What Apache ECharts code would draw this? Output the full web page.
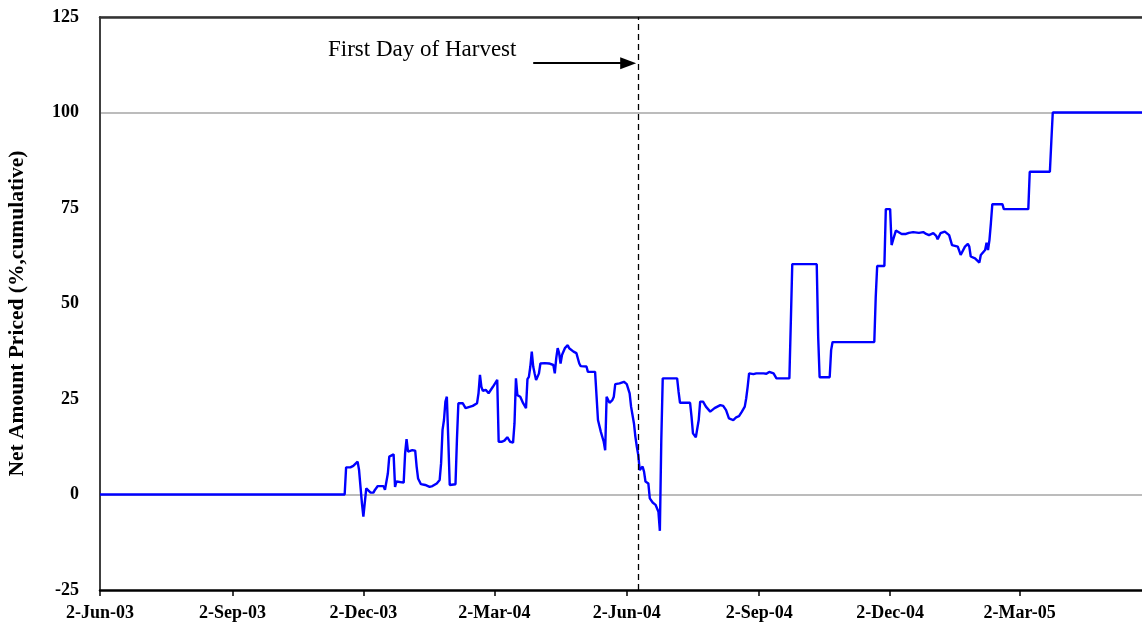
<!DOCTYPE html>
<html>
<head>
<meta charset="utf-8">
<title>Net Amount Priced</title>
<script src="https://cdn.jsdelivr.net/npm/echarts@6.0.0/dist/echarts.min.js"></script>
<style>
  html,body{margin:0;padding:0;background:#fff;}
  #chart{width:1142px;height:628px;}
</style>
</head>
<body>
<div id="chart"></div>
<script>
// dates (x), cumulative % priced (y)
var dates = [
  '2003-06-02','2003-11-19','2003-11-20','2003-11-23','2003-11-24','2003-11-25','2003-11-28','2003-11-29','2003-11-30',
  '2003-12-01','2003-12-02','2003-12-03','2003-12-04','2003-12-05','2003-12-07','2003-12-09','2003-12-10','2003-12-12',
  '2003-12-16','2003-12-17','2003-12-18','2003-12-19','2003-12-20','2003-12-23','2003-12-24','2003-12-25','2003-12-26',
  '2003-12-30','2003-12-31','2004-01-01','2004-01-02','2004-01-03','2004-01-05','2004-01-07','2004-01-08','2004-01-09',
  '2004-01-11','2004-01-14','2004-01-15','2004-01-17','2004-01-19','2004-01-22','2004-01-24','2004-01-25','2004-01-26',
  '2004-01-27','2004-01-28','2004-01-29','2004-01-30','2004-01-31','2004-02-04','2004-02-05','2004-02-06','2004-02-09',
  '2004-02-11','2004-02-12','2004-02-16','2004-02-19','2004-02-20','2004-02-21','2004-02-22','2004-02-23','2004-02-25',
  '2004-02-27','2004-03-01','2004-03-04','2004-03-05','2004-03-07','2004-03-09','2004-03-11','2004-03-13','2004-03-15',
  '2004-03-16','2004-03-17','2004-03-18','2004-03-20','2004-03-22','2004-03-24','2004-03-25','2004-03-26','2004-03-27',
  '2004-03-28','2004-03-29','2004-03-30','2004-03-31','2004-04-01','2004-04-02','2004-04-03','2004-04-06','2004-04-09',
  '2004-04-12','2004-04-13','2004-04-14','2004-04-15','2004-04-16','2004-04-17','2004-04-18','2004-04-19','2004-04-20',
  '2004-04-22','2004-04-23','2004-04-26','2004-04-28','2004-04-30','2004-05-01','2004-05-05','2004-05-06','2004-05-11',
  '2004-05-12','2004-05-13','2004-05-14','2004-05-15','2004-05-17','2004-05-18','2004-05-19','2004-05-20','2004-05-21',
  '2004-05-23','2004-05-24','2004-05-25','2004-05-28','2004-05-31','2004-06-02','2004-06-04','2004-06-05','2004-06-07',
  '2004-06-08','2004-06-09','2004-06-10','2004-06-11','2004-06-12','2004-06-13','2004-06-14','2004-06-15','2004-06-17',
  '2004-06-18','2004-06-20','2004-06-22','2004-06-23','2004-06-24','2004-06-25','2004-06-26','2004-06-27','2004-07-07',
  '2004-07-08','2004-07-09','2004-07-16','2004-07-17','2004-07-18','2004-07-20','2004-07-21','2004-07-22','2004-07-23',
  '2004-07-25','2004-07-27','2004-07-30','2004-08-02','2004-08-04','2004-08-06','2004-08-08','2004-08-10','2004-08-12',
  '2004-08-15','2004-08-17','2004-08-19','2004-08-21','2004-08-23','2004-08-24','2004-08-25','2004-08-26','2004-08-29',
  '2004-08-31','2004-09-01','2004-09-05','2004-09-07','2004-09-09','2004-09-10','2004-09-12','2004-09-14','2004-09-23',
  '2004-09-24','2004-09-25','2004-10-12','2004-10-13','2004-10-14','2004-10-21','2004-10-22','2004-10-23','2004-11-21',
  '2004-11-22','2004-11-23','2004-11-28','2004-11-29','2004-12-02','2004-12-03','2004-12-04','2004-12-06','2004-12-10',
  '2004-12-13','2004-12-15','2004-12-18','2004-12-22','2004-12-25','2004-12-27','2004-12-29','2005-01-01','2005-01-03',
  '2005-01-04','2005-01-06','2005-01-09','2005-01-12','2005-01-14','2005-01-18','2005-01-19','2005-01-20','2005-01-23',
  '2005-01-25','2005-01-26','2005-01-27','2005-01-30','2005-02-02','2005-02-03','2005-02-04','2005-02-06','2005-02-07',
  '2005-02-08','2005-02-09','2005-02-10','2005-02-11','2005-02-18','2005-02-19','2005-03-08','2005-03-09','2005-03-23',
  '2005-03-24','2005-03-25','2005-05-26'
];
var priced = [
  0, 0, 7.1, 7.1, 6.8, 7.5, 8.6, 6.4, 2.0,
  -2.3, -5.8, -6.2, 1.6, 1.4, 0.5, 0.5, 1.2, 2.2,
  2.2, 1.2, 0.7, 5.5, 9.9, 10.5, 2.0, 3.4, 3.1,
  3.1, 10.8, 14.5, 11.2, 10.8, 11.6, 11.5, 7.3, 4.2,
  2.7, 2.5, 2.9, 2.0, 2.2, 2.9, 3.8, 8.2, 16.9,
  19.5, 24.3, 25.6, 14.3, 2.5, 2.7, 14.3, 23.9, 23.9,
  22.6, 22.6, 23.2, 23.9, 26.5, 31.3, 28.2, 27.1, 27.4,
  26.5, 28.2, 30.0, 13.8, 13.8, 14.1, 15.0, 13.8, 13.6,
  18.6, 30.4, 26.0, 25.6, 23.9, 22.6, 30.2, 30.8, 33.5,
  37.4, 33.5, 31.7, 30.0, 30.8, 31.7, 34.3, 34.4, 34.3,
  33.9, 31.7, 35.7, 38.3, 37.0, 34.3, 36.5, 37.0, 38.3,
  39.1, 38.3, 37.4, 37.0, 34.3, 33.6, 33.5, 32.1, 32.1,
  31.9, 19.5, 19.1, 16.4, 13.8, 11.6, 25.6, 25.2, 24.0,
  24.7, 25.6, 28.9, 29.1, 29.5, 28.9, 26.5, 23.0, 18.6,
  15.1, 12.5, 10.3, 6.4, 6.9, 7.3, 6.0, 3.4, 2.9,
  -1.0, -2.1, -2.7, -3.2, -4.5, -9.5, 14.3, 30.4, 30.4,
  26.9, 24.0, 24.0, 20.4, 16.0, 15.0, 15.1, 19.5, 24.3,
  24.3, 23.0, 21.7, 22.6, 23.0, 23.4, 23.2, 22.1, 19.9,
  19.5, 20.2, 20.5, 21.7, 23.0, 25.2, 28.2, 31.7, 31.5,
  31.7, 32.1, 31.7, 31.6, 32.1, 32.4, 31.7, 30.4, 30.4,
  45.2, 60.3, 60.3, 41.3, 30.7, 30.7, 37.8, 39.9, 39.9,
  51.8, 59.8, 59.8, 74.7, 74.7, 65.3, 66.6, 69.1, 68.2,
  68.2, 68.5, 68.7, 68.5, 68.7, 68.2, 67.9, 68.4, 67.7,
  66.8, 68.4, 68.8, 67.9, 65.3, 64.9, 64.9, 62.7, 64.9,
  65.6, 64.9, 62.3, 61.8, 60.7, 62.7, 63.1, 64.0, 65.9,
  64.0, 66.6, 71.0, 76.0, 76.0, 74.7, 74.7, 84.5, 84.5,
  92.4, 100, 100
];

// x axis tick positions and their labels
var tickDates = ['2003-06-02','2003-09-02','2003-12-02','2004-03-02','2004-06-02','2004-09-02','2004-12-02','2005-03-02'];
var tickLabels = ['2-Jun-03','2-Sep-03','2-Dec-03','2-Mar-04','2-Jun-04','2-Sep-04','2-Dec-04','2-Mar-05'];

var harvestDate = '2004-06-10';
var arrowFrom = ['2004-03-29', 112.9];
var arrowTo = ['2004-06-03', 112.9];

// x is kept as milliseconds on a plain value axis so ticks can sit on the 2nd of the month
function toTime(s){
  var p = s.split('-');
  return Date.UTC(+p[0], +p[1]-1, +p[2]);
}

var tickTimes = tickDates.map(toTime);
var seriesData = dates.map(function(d, i){ return [toTime(d), priced[i]]; });
var xMin = toTime('2003-06-02');
var xMax = toTime('2005-05-26');

var font = '"Liberation Serif", "Times New Roman", serif';
var chart = echarts.init(document.getElementById('chart'));

chart.setOption({
  animation: false,
  grid: { left: 100, right: 0, top: 17, bottom: 38, containLabel: false, outerBoundsMode: 'none' },
  graphic: [{
    type: 'text',
    left: 328, top: 38,
    style: { text: 'First Day of Harvest', font: '23px ' + font, fill: '#000' }
  }],
  xAxis: [{
    type: 'value',
    min: xMin,
    max: xMax,
    axisLine: { onZero: false, lineStyle: { color: '#000', width: 2.5 } },
    axisTick: { show: true, length: 6, lineStyle: { color: '#000', width: 1.5 }, customValues: tickTimes },
    axisLabel: {
      customValues: tickTimes,
      margin: 14,
      color: '#000',
      fontFamily: font,
      fontWeight: 'bold',
      fontSize: 18,
      formatter: function(val){
        for (var i = 0; i < tickTimes.length; i++) {
          if (Math.abs(tickTimes[i] - val) < 3600000) return tickLabels[i];
        }
        return '';
      }
    },
    splitLine: { show: false }
  }, {
    // top frame line
    type: 'value',
    position: 'top',
    min: xMin,
    max: xMax,
    axisLine: { show: true, onZero: false, lineStyle: { color: '#333', width: 2.5 } },
    axisTick: { show: false },
    axisLabel: { show: false },
    splitLine: { show: false }
  }],
  yAxis: {
    type: 'value',
    min: -25,
    max: 125,
    interval: 25,
    name: 'Net Amount Priced (%,cumulative)',
    nameLocation: 'middle',
    nameGap: 72,
    nameTextStyle: { color: '#000', fontFamily: font, fontWeight: 'bold', fontSize: 21.5, padding: [0, 20, 0, 0] },
    axisLine: { show: true, onZero: false, lineStyle: { color: '#404040', width: 2 } },
    axisTick: { show: false },
    axisLabel: { margin: 21, color: '#000', fontFamily: font, fontWeight: 'bold', fontSize: 18 },
    splitLine: {
      show: true,
      // only 0, 100 and 125 get a gray line
      lineStyle: { color: ['rgba(0,0,0,0)', '#a6a6a6', 'rgba(0,0,0,0)', 'rgba(0,0,0,0)', 'rgba(0,0,0,0)', '#a6a6a6', '#a6a6a6'], width: 1.5 }
    }
  },
  series: [{
    type: 'line',
    name: 'Net Amount Priced',
    data: seriesData,
    showSymbol: false,
    symbol: 'none',
    z: 3,
    lineStyle: { color: '#0000ff', width: 2.4 },
    markLine: {
      silent: true,
      symbol: 'none',
      label: { show: false },
      data: [
        { xAxis: toTime(harvestDate), lineStyle: { color: '#000', type: [6, 4], width: 1.3 } },
        [
          { coord: [toTime(arrowFrom[0]), arrowFrom[1]], symbol: 'none', lineStyle: { color: '#000', type: 'solid', width: 2 } },
          { coord: [toTime(arrowTo[0]), arrowTo[1]], symbol: 'triangle', symbolRotate: -90, symbolSize: [12, 16] }
        ]
      ]
    }
  }]
});
</script>
</body>
</html>
